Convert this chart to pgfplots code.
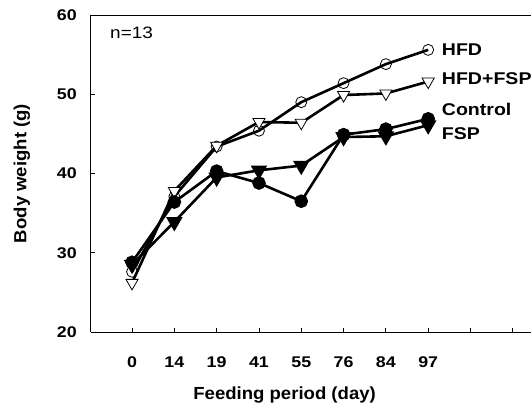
\documentclass[border=0pt]{standalone}
\usepackage{fontspec}
\setmainfont{Liberation Sans}
\newfontfamily\wide[FakeStretch=1.15]{Liberation Sans}
\newfontfamily\wider[FakeStretch=1.06]{Liberation Sans}
\usepackage{pgfplots}
\pgfplotsset{compat=1.18}
\begin{document}
\begin{tikzpicture}[x=1pt,y=1pt]
\path[use as bounding box] (0,0) rectangle (531,408);
\begin{axis}[
  at={(91pt,76pt)}, anchor=south west,
  scale only axis,
  width=440pt, height=317pt,
  xmin=-0.97, xmax=9.43,
  ymin=20, ymax=60,
  axis x line*=bottom, axis y line*=left,
  axis line style={line width=1pt, -},
  xtick={0,1,2,3,4,5,6,7,8,9},
  xticklabels={0,14,19,41,55,76,84,97,,},
  ytick={20,30,40,50,60},
  tick align=inside,
  major tick length=4pt,
  tick style={line width=0.8pt, black},
  /pgf/number format/assume math mode=true,
  ticklabel style={font=\wide\fontsize{15.5}{17}\selectfont\bfseries, inner sep=0pt},
  xticklabel style={anchor=center, yshift=-30pt},
  yticklabel style={anchor=east, xshift=-14pt},
  xlabel={Feeding period (day)},
  ylabel={Body weight (g)},
  every axis x label/.style={at={(axis description cs:0.44,0)}, anchor=center, yshift=-63pt,
    font=\wider\fontsize{17.5}{20}\selectfont\bfseries},
  every axis y label/.style={at={(axis description cs:0,0.5)}, xshift=-69pt, rotate=90, anchor=center,
    font=\wider\fontsize{17.5}{20}\selectfont\bfseries},
  clip=false,
  every axis plot/.append style={line width=2.6pt, black},
]
\draw[line width=1pt] (rel axis cs:0,1) -- (rel axis cs:1,1);
% HFD
\addplot[mark=o, mark size=5.5pt, mark options={fill=white, line width=0.8pt, solid}]
  coordinates {(0,27.6) (1,37.1) (2,43.4) (3,45.4) (4,49.0) (5,51.4) (6,53.8) (7,55.6)};
% HFD+FSP
\addplot[mark=triangle*, mark size=7pt, mark options={fill=white, line width=0.8pt, rotate=180, solid}]
  coordinates {(0,26.2) (1,37.8) (2,43.5) (3,46.5) (4,46.4) (5,49.9) (6,50.1) (7,51.6)};
% FSP
\addplot[mark=triangle*, mark size=7pt, mark options={fill=black, rotate=180, solid}]
  coordinates {(0,28.5) (1,33.9) (2,39.5) (3,40.4) (4,41.0) (5,44.6) (6,44.7) (7,46.1)};
% Control
\addplot[mark=*, mark size=5.5pt, mark options={fill=black, solid}]
  coordinates {(0,28.8) (1,36.4) (2,40.3) (3,38.8) (4,36.5) (5,44.9) (6,45.6) (7,46.9)};
\node[anchor=west, font=\wide\fontsize{17}{19}\selectfont\bfseries, inner sep=0pt] at (axis cs:7.32,55.6) {HFD};
\node[anchor=west, font=\wide\fontsize{17}{19}\selectfont\bfseries, inner sep=0pt] at (axis cs:7.32,52.0) {HFD+FSP};
\node[anchor=west, font=\wide\fontsize{17}{19}\selectfont\bfseries, inner sep=0pt] at (axis cs:7.32,48.1) {Control};
\node[anchor=west, font=\wide\fontsize{17}{19}\selectfont\bfseries, inner sep=0pt] at (axis cs:7.32,45.0) {FSP};
\node[anchor=west, font=\wide\fontsize{16.5}{18}\selectfont, inner sep=0pt] at (axis cs:-0.52,57.7) {n=13};
\end{axis}
\end{tikzpicture}
\end{document}
